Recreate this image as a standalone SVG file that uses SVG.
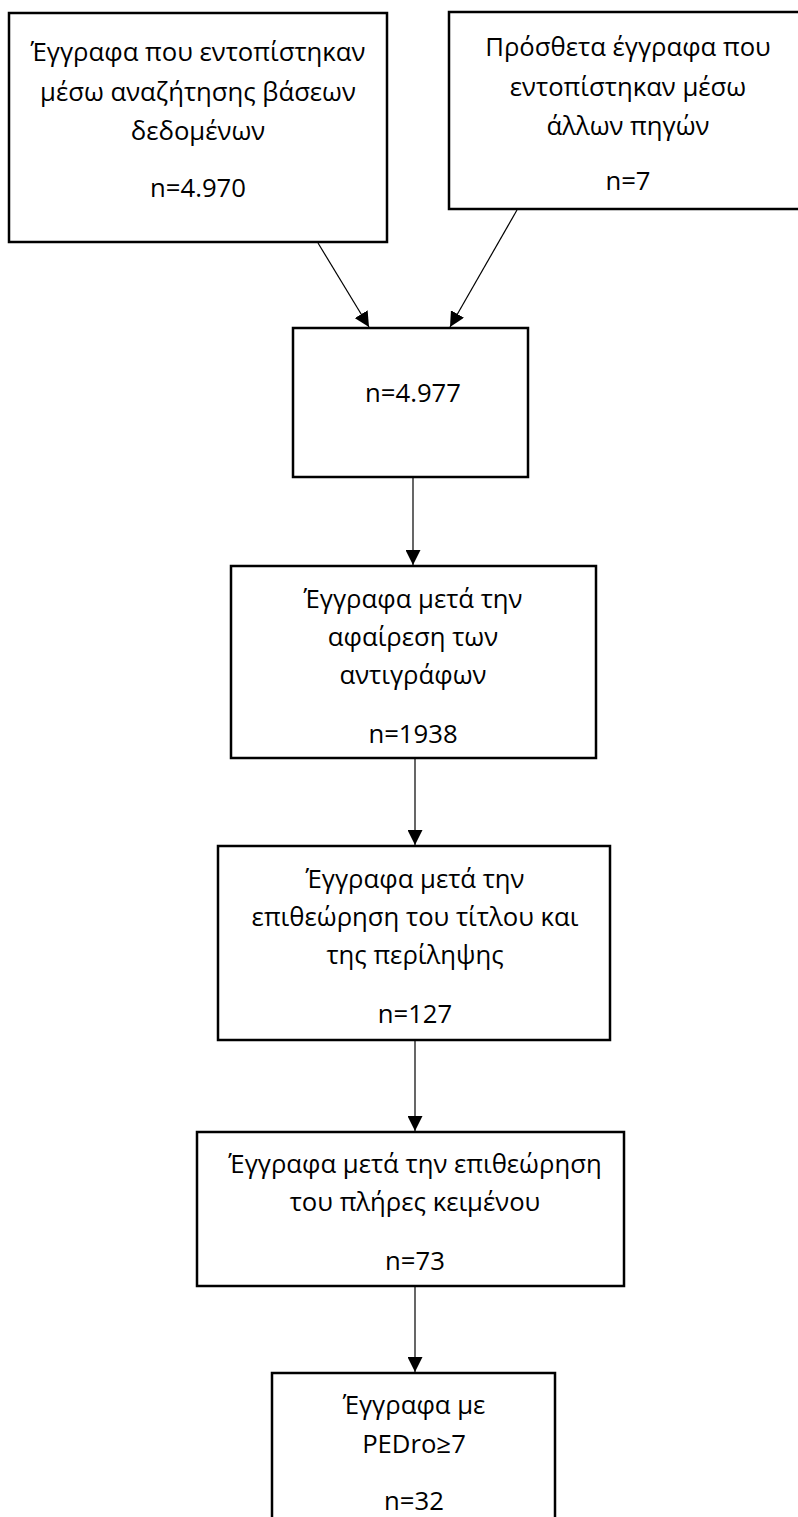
<svg xmlns="http://www.w3.org/2000/svg" width="798" height="1517" viewBox="0 0 798 1517">
<style>
.box{fill:#fff;stroke:#000;stroke-width:2.5}
.t{font-family:"Open Sans","Noto Sans","Liberation Sans",sans-serif;font-size:25.7px;fill:#000;text-anchor:middle}
.c{stroke:#000;stroke-width:1.2;fill:none;marker-end:url(#ah)}
</style>
<defs>
<marker id="ah" viewBox="0 0 10 10" refX="10" refY="5" markerWidth="15" markerHeight="15" markerUnits="userSpaceOnUse" orient="auto">
<path d="M0,0 L10,5 L0,10 z" fill="#000"/>
</marker>
</defs>
<rect width="798" height="1517" fill="#fff"/>
<g id="connectors">
<line class="c" x1="318" y1="243" x2="369" y2="327"/>
<line class="c" x1="517" y1="210" x2="450" y2="327"/>
<line class="c" x1="413" y1="478" x2="413" y2="565"/>
<line class="c" x1="415" y1="759" x2="415" y2="845"/>
<line class="c" x1="415" y1="1041" x2="415" y2="1131"/>
<line class="c" x1="415" y1="1287" x2="415" y2="1372"/>
</g>
<g id="n1">
<rect class="box" x="9" y="13" width="378" height="229"/>
<text class="t" x="198" y="61">Έγγραφα που εντοπίστηκαν</text>
<text class="t" x="198" y="101">μέσω αναζήτησης βάσεων</text>
<text class="t" x="198" y="140">δεδομένων</text>
<text class="t" x="198" y="197">n=4.970</text>
</g>
<g id="n2">
<rect class="box" x="449" y="12" width="360" height="197"/>
<text class="t" x="628" y="56">Πρόσθετα έγγραφα που</text>
<text class="t" x="628" y="96">εντοπίστηκαν μέσω</text>
<text class="t" x="628" y="135">άλλων πηγών</text>
<text class="t" x="628" y="190">n=7</text>
</g>
<g id="n3">
<rect class="box" x="293" y="328" width="235" height="149"/>
<text class="t" x="413" y="402">n=4.977</text>
</g>
<g id="n4">
<rect class="box" x="231" y="566" width="365" height="192"/>
<text class="t" x="413" y="608">Έγγραφα μετά την</text>
<text class="t" x="413" y="646">αφαίρεση των</text>
<text class="t" x="413" y="684">αντιγράφων</text>
<text class="t" x="413" y="743">n=1938</text>
</g>
<g id="n5">
<rect class="box" x="218" y="846" width="392" height="194"/>
<text class="t" x="415" y="888">Έγγραφα μετά την</text>
<text class="t" x="415" y="926">επιθεώρηση του τίτλου και</text>
<text class="t" x="415" y="964">της περίληψης</text>
<text class="t" x="415" y="1023">n=127</text>
</g>
<g id="n6">
<rect class="box" x="197" y="1132" width="427" height="154"/>
<text class="t" x="415" y="1173">Έγγραφα μετά την επιθεώρηση</text>
<text class="t" x="415" y="1211">του πλήρες κειμένου</text>
<text class="t" x="415" y="1270">n=73</text>
</g>
<g id="n7">
<rect class="box" x="272" y="1373" width="283" height="160"/>
<text class="t" x="414" y="1414">Έγγραφα με</text>
<text class="t" x="414" y="1453">PEDro≥7</text>
<text class="t" x="414" y="1510">n=32</text>
</g>
</svg>
